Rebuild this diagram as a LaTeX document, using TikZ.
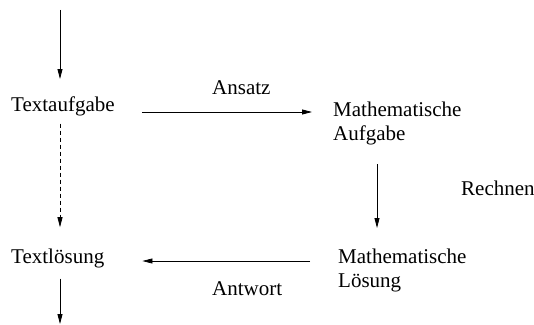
\documentclass[tikz,border=0pt]{standalone}
\usepackage{fontspec}
\setmainfont{Liberation Serif}
\usepackage{tikz}
\usetikzlibrary{arrows.meta}

\begin{document}
\begin{tikzpicture}[x=1pt,y=1pt,
  txt/.style={inner sep=0pt,font=\fontsize{21}{23.5}\selectfont,align=left},
  pfeil/.style={line width=0.75pt,-{Triangle[length=10pt,width=5pt]}}]
\useasboundingbox (0,0) rectangle (534,324);
% Knoten
\coordinate (oben) at (60,314);
\coordinate (unten) at (60,0);
\node[txt,anchor=base west] (ta) at (11,212) {Textaufgabe};
\node[txt,anchor=base west] (tl) at (11,61) {Textlösung};
\node[txt,anchor=north west] (ma) at (333,222) {Mathematische\\Aufgabe};
\node[txt,anchor=north west] (ml) at (338,75) {Mathematische\\Lösung};
\node[txt,anchor=base west] (ansatz) at (212,229) {Ansatz};
\node[txt,anchor=base west] (rechnen) at (461,129) {Rechnen};
\node[txt,anchor=base west] (antwort) at (212,29) {Antwort};
% Pfeile
\draw[pfeil,shorten >=18pt] (oben) -- (ta.north -| oben);
\draw[pfeil,dash pattern=on 4pt off 3pt,shorten <=7pt,shorten >=21pt] (ta.south -| oben) -- (tl.north -| oben);
\draw[pfeil,shorten <=11pt] (tl.south -| oben) -- (unten);
\draw[pfeil,shorten <=27pt,shorten >=21pt] (ta.base east) -- (ma.west |- ta.base east);
\draw[pfeil,shorten <=19pt,shorten >=21pt] ([xshift=44pt]ma.south west) -- ([xshift=39pt]ml.north west);
\draw[pfeil,shorten <=28pt,shorten >=38pt] ([yshift=2pt]ml.west |- tl.base east) -- ([yshift=2pt]tl.base east);
\end{tikzpicture}
\end{document}
